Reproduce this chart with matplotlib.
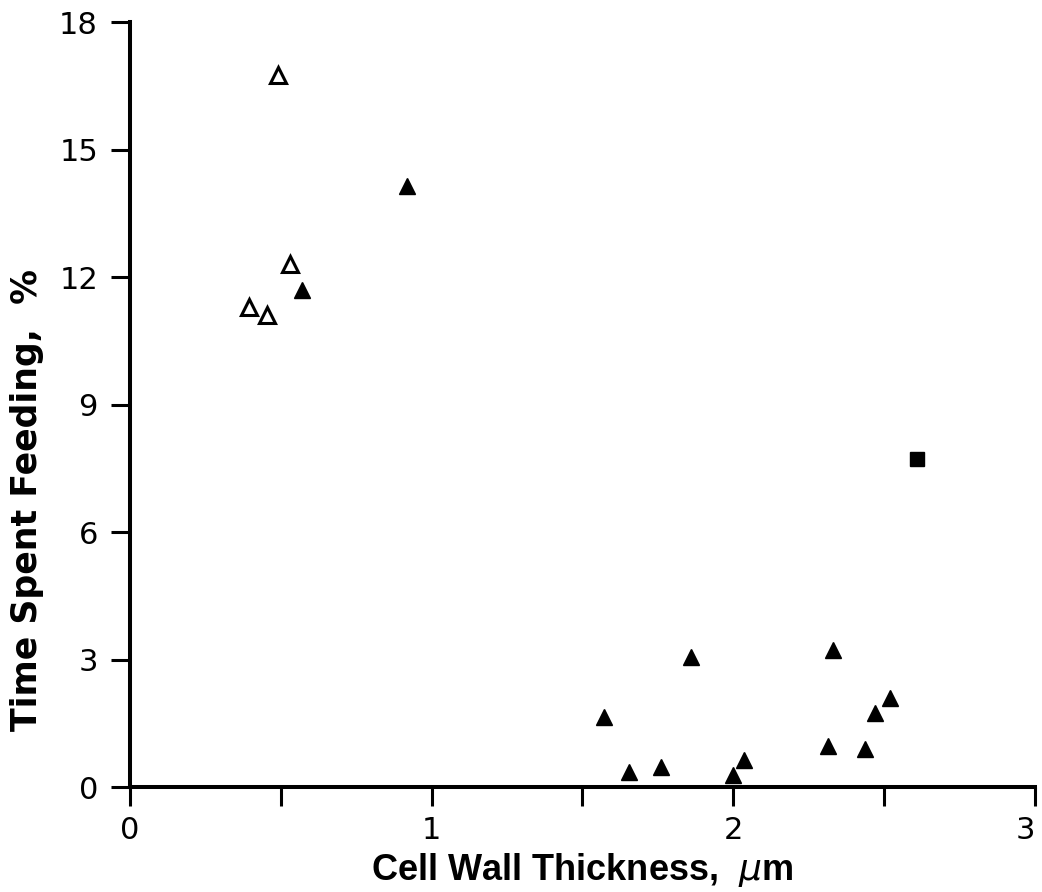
import matplotlib
matplotlib.use('Agg')
import matplotlib.pyplot as plt
import numpy as np

# open triangles
open_x = [0.395, 0.455, 0.49, 0.53]
open_y = [11.3, 11.1, 16.75, 12.3]

# filled triangles
filled_x = [0.57, 0.92, 1.57, 1.655, 1.76, 1.86, 2.0, 2.035, 2.315, 2.33, 2.435, 2.47, 2.52]
filled_y = [11.7, 14.15, 1.65, 0.35, 0.47, 3.05, 0.28, 0.64, 0.96, 3.22, 0.89, 1.74, 2.09]

# filled square
square_x = [2.61]
square_y = [7.72]

xticks = [0, 0.5, 1, 1.5, 2, 2.5, 3]
xticklabels = ['0', '', '1', '', '2', '', '3']
yticks = [0, 3, 6, 9, 12, 15, 18]

fig = plt.figure(figsize=(10.42, 8.92), dpi=100)
ax = fig.add_axes([0.1247, 0.1177, 0.8686, 0.8576])

ax.plot(open_x, open_y, '^', ms=11, mfc='white', mec='black', mew=2.2, clip_on=False)
ax.plot(filled_x, filled_y, '^', ms=11, color='black', clip_on=False)
ax.plot(square_x, square_y, 's', ms=9.5, color='black', clip_on=False)

ax.set_xlim(0, 3)
ax.set_ylim(0, 18)

for s in ['top', 'right']:
    ax.spines[s].set_visible(False)
for s in ['left', 'bottom']:
    ax.spines[s].set_linewidth(2.9)

ax.set_xticks(xticks)
ax.set_xticklabels(xticklabels)
ax.set_yticks(yticks)
ax.tick_params(axis='both', direction='out', length=14, width=2.2, labelsize=22)
ax.tick_params(axis='x', pad=7)
ax.tick_params(axis='y', pad=9)
# last x label sits at the right edge of the figure
ax.get_xticklabels()[-1].set_horizontalalignment('right')

ax.set_xlabel('Cell Wall Thickness,  $\\mu$m', fontsize=26, fontweight='bold',
              family='Liberation Sans', labelpad=4)
ax.set_ylabel('Time Spent Feeding,  %', fontsize=25, fontweight='bold',
              family='DejaVu Sans')
ax.yaxis.set_label_coords(-0.095, 0.375)

fig.savefig('out.png', dpi=100)
